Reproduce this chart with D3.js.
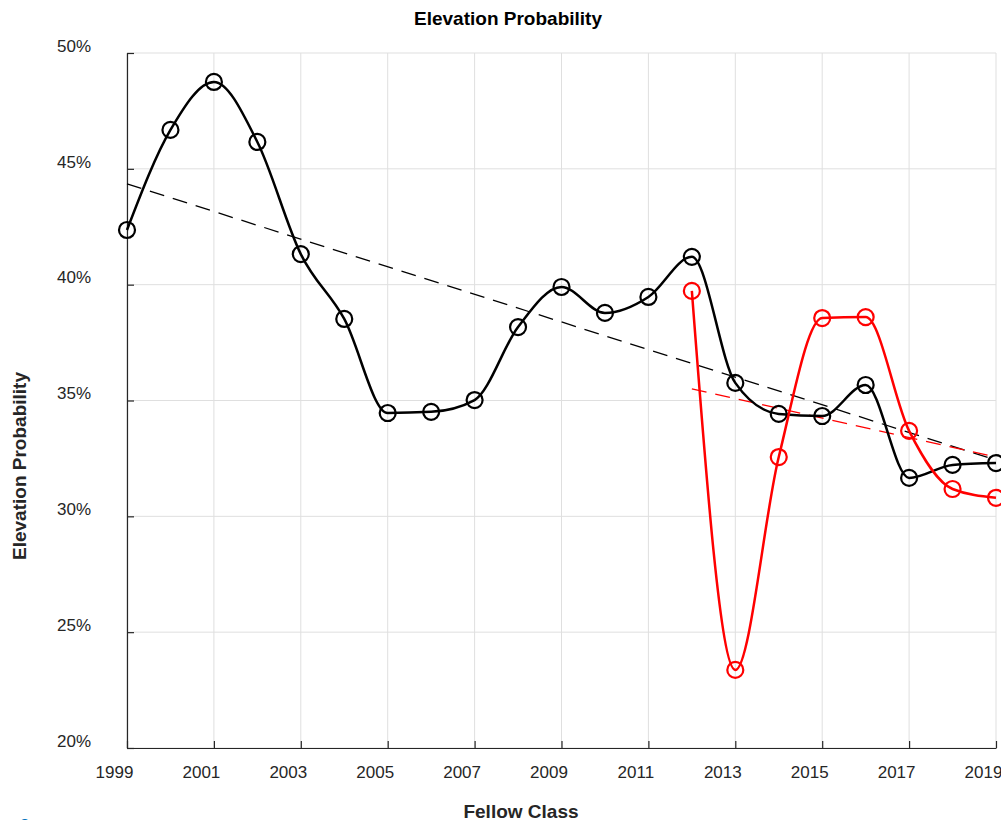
<!DOCTYPE html>
<html>
<head>
<meta charset="utf-8">
<script src="https://cdn.jsdelivr.net/npm/d3@7"></script>
<style>
  body { margin: 0; background: #fff; }
  svg { display: block; font-family: "Liberation Sans", Arial, sans-serif; }
</style>
</head>
<body>
<div id="chart"></div>
<script>
// data
var years = [1999, 2000, 2001, 2002, 2003, 2004, 2005, 2006, 2007, 2008, 2009,
             2010, 2011, 2012, 2013, 2014, 2015, 2016, 2017, 2018, 2019];
var allValues = [42.36, 46.68, 48.75, 46.16, 41.32, 38.52, 34.46, 34.51, 35.02, 38.17, 39.9,
                 38.78, 39.47, 41.2, 35.76, 34.42, 34.33, 35.67, 31.66, 32.22, 32.3];
var recentYears = [2012, 2013, 2014, 2015, 2016, 2017, 2018, 2019];
var recentValues = [39.73, 23.37, 32.56, 38.56, 38.6, 33.69, 31.18, 30.8];
var allTrend = [[1999, 44.35], [2019, 32.43]];
var recentTrend = [[2012, 35.5], [2019, 32.56]];
var xTicks = [1999, 2001, 2003, 2005, 2007, 2009, 2011, 2013, 2015, 2017, 2019];
var yTicks = [20, 25, 30, 35, 40, 45, 50];

var width = 1001, height = 820;
var padL = 127, padR = 996, padT = 53, padB = 748;

var svg = d3.select("#chart").append("svg")
  .attr("width", width)
  .attr("height", height);

var x = d3.scaleLinear().domain([1999, 2019]).range([padL, padR]);
var y = d3.scaleLinear().domain([20, 50]).range([padB, padT]);

// grid
svg.append("g").selectAll("line").data(xTicks).enter().append("line")
  .attr("x1", d => x(d)).attr("x2", d => x(d))
  .attr("y1", padT).attr("y2", padB)
  .attr("stroke", "#dfdfdf").attr("stroke-width", 1);
svg.append("g").selectAll("line").data(yTicks).enter().append("line")
  .attr("x1", padL).attr("x2", padR)
  .attr("y1", d => y(d)).attr("y2", d => y(d))
  .attr("stroke", "#dfdfdf").attr("stroke-width", 1);

// axes (ticks point inward, labels shifted like the original)
var xaxis = d3.axisBottom(x).tickValues(xTicks).tickFormat(d3.format("d"))
  .tickSizeInner(-7).tickSizeOuter(0).tickPadding(18);
var yaxis = d3.axisLeft(y).tickValues(yTicks).tickFormat(d => d + "%")
  .tickSizeInner(-7).tickSizeOuter(0).tickPadding(36);

var gx = svg.append("g").attr("transform", "translate(0," + padB + ")").call(xaxis);
var gy = svg.append("g").attr("transform", "translate(" + padL + ",0)").call(yaxis);
[gx, gy].forEach(g => {
  g.attr("font-size", null).attr("font-family", null);
  g.select(".domain").attr("stroke", "#262626").attr("stroke-width", 1.2);
  g.selectAll(".tick line").attr("stroke", "#262626").attr("stroke-width", 1.2);
  g.selectAll("text").attr("fill", "#262626").style("font-size", "17px");
});
gx.selectAll("text").attr("dx", "-13");
gy.selectAll("text").attr("dy", "-0.1em");

// trend lines
var straight = d3.line().x(d => x(d[0])).y(d => y(d[1]));
svg.append("path").attr("d", straight(allTrend))
  .attr("fill", "none").attr("stroke", "#000").attr("stroke-width", 1.3)
  .attr("stroke-dasharray", "15,9");
svg.append("path").attr("d", straight(recentTrend))
  .attr("fill", "none").attr("stroke", "#ff0000").attr("stroke-width", 1.3)
  .attr("stroke-dasharray", "15,9");

// smooth series
function drawSeries(xs, vs, color) {
  var pts = xs.map((d, i) => [d, vs[i]]);
  var curve = d3.line().x(d => x(d[0])).y(d => y(d[1])).curve(d3.curveMonotoneX);
  svg.append("path").attr("d", curve(pts))
    .attr("fill", "none").attr("stroke", color).attr("stroke-width", 2.5);
  svg.append("g").selectAll("circle").data(pts).enter().append("circle")
    .attr("cx", d => x(d[0])).attr("cy", d => y(d[1])).attr("r", 8)
    .attr("fill", "none").attr("stroke", color).attr("stroke-width", 2.2);
}
drawSeries(years, allValues, "#000");
drawSeries(recentYears, recentValues, "#ff0000");

// titles
svg.append("text").attr("x", 508).attr("y", 25)
  .attr("text-anchor", "middle").style("font-weight", "bold").style("font-size", "19px")
  .attr("fill", "#000").text("Elevation Probability");
svg.append("text").attr("x", 521).attr("y", 818)
  .attr("text-anchor", "middle").style("font-weight", "bold").style("font-size", "19px")
  .attr("fill", "#262626").text("Fellow Class");
svg.append("text").attr("transform", "translate(26,466) rotate(-90)")
  .attr("text-anchor", "middle").style("font-weight", "bold").style("font-size", "19px")
  .attr("fill", "#262626").text("Elevation Probability");
svg.append("text").attr("x", 20).attr("y", 831)
  .style("font-size", "17px").attr("fill", "#0072bd").text("3");
</script>
</body>
</html>
